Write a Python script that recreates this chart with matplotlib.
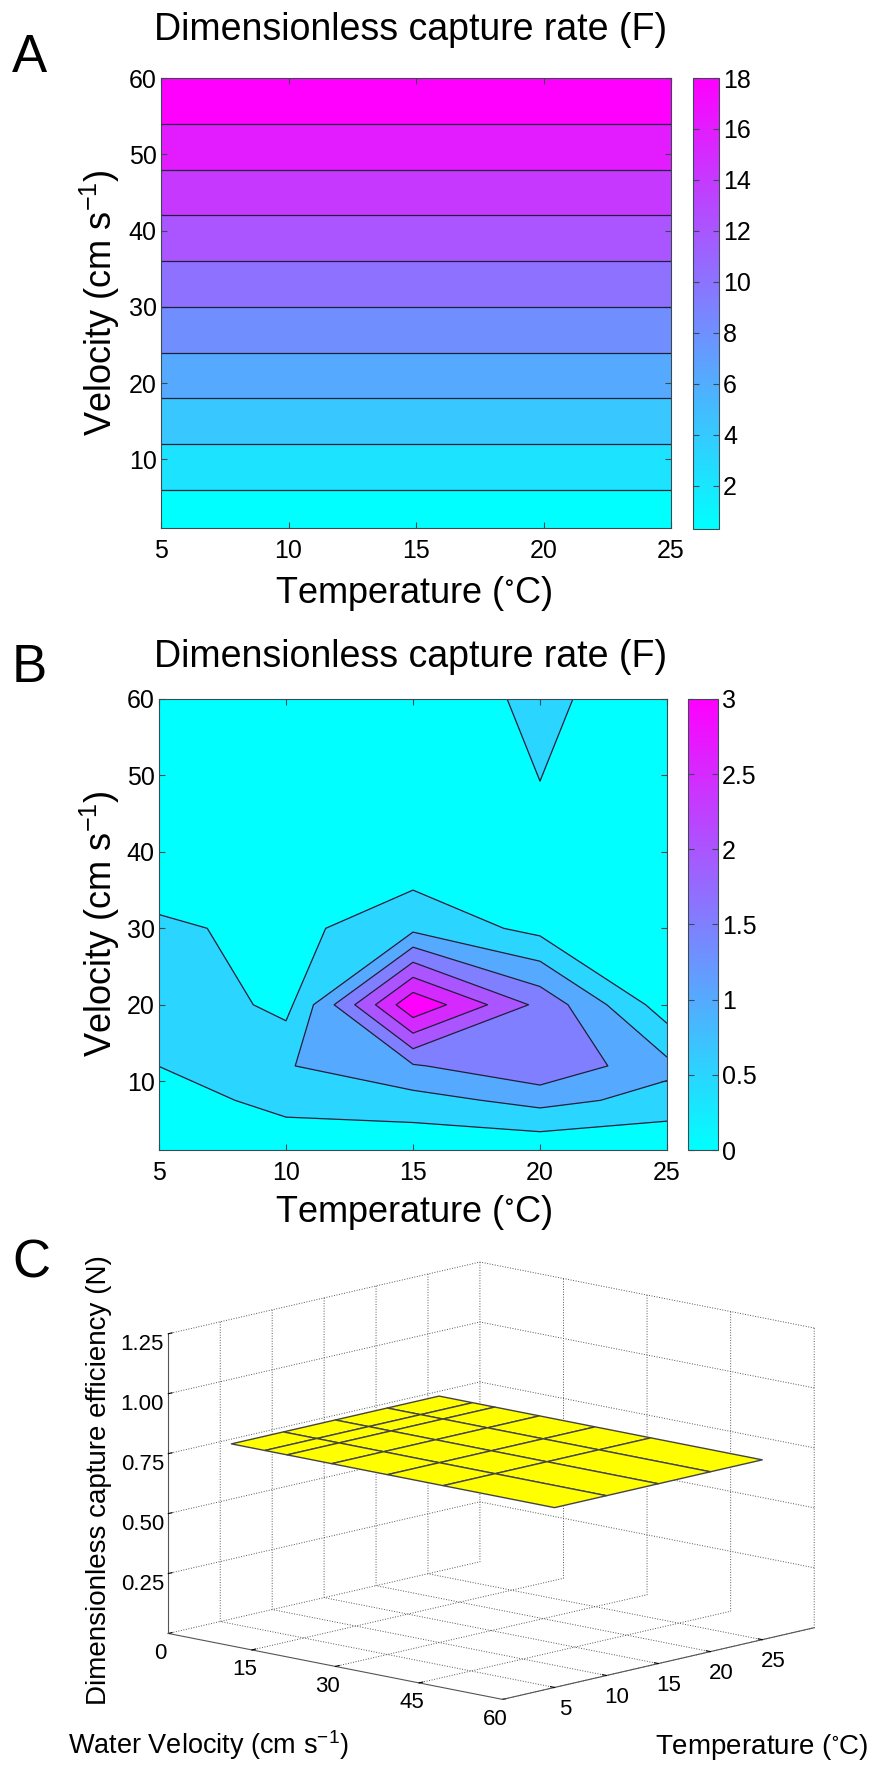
import matplotlib
matplotlib.use("Agg")
import matplotlib.pyplot as plt
import numpy as np
from matplotlib.cm import ScalarMappable
from matplotlib.colors import Normalize

plt.rcParams["font.family"] = ["Liberation Sans", "DejaVu Sans"]
plt.rcParams["mathtext.fontset"] = "custom"
plt.rcParams["mathtext.rm"] = "Liberation Sans"
plt.rcParams["mathtext.default"] = "regular"

W, H = 873, 1766
EDGE = "#3a4a50"

# Daten
temperature = [5, 10, 15, 20, 25]
velocity = [1, 7.5, 12, 20, 30, 40, 60]

# Panel A: F haengt nur von der Geschwindigkeit ab
f_a_by_velocity = [0.3, 2.25, 3.6, 6.0, 9.0, 12.0, 18.0]
levels_a = [1.8, 3.6, 5.4, 7.2, 9.0, 10.8, 12.6, 14.4, 16.2]
ticks_a = [2, 4, 6, 8, 10, 12, 14, 16, 18]

# Panel B
f_b = [
    [0.022, 0.088, 0.097, 0.101, 0.044],
    [0.172, 0.620, 0.717, 1.021, 0.726],
    [0.444, 0.849, 1.276, 1.694, 0.994],
    [0.858, 0.295, 3.000, 1.637, 0.198],
    [0.532, 0.290, 0.770, 0.308, 0.088],
    [0.022, 0.044, 0.110, 0.334, 0.044],
    [0.022, 0.022, 0.088, 0.563, 0.088],
]
levels_b = [0.44, 0.88, 1.32, 1.76, 2.20, 2.64]
ticks_b = [0, 0.5, 1, 1.5, 2, 2.5, 3]
ticklabels_b = ["0", "0.5", "1", "1.5", "2", "2.5", "3"]

# Panel C
velocity_c = [2, 8, 12, 20, 30, 40, 60]
n_value = 0.75
vel_ticks_c = [0, 15, 30, 45, 60]
temp_ticks_c = [5, 10, 15, 20, 25]
z_ticks_c = [0.25, 0.50, 0.75, 1.00, 1.25]

fig = plt.figure(figsize=(W / 100, H / 100), dpi=100)


def box(left, right, top, bottom):
    return [left / W, 1 - bottom / H, (right - left) / W, (bottom - top) / H]


def put(x, y, s, **kw):
    return fig.text(x / W, 1 - y / H, s, **kw)


def contour_panel(ax_box, cax_box, z, levels, vmin, vmax, ticks, ticklabels):
    ax = fig.add_axes(box(*ax_box))
    full = [vmin - 1] + levels + [vmax + 1]
    cols = [plt.cm.cool(i / (len(full) - 2)) for i in range(len(full) - 1)]
    ax.contourf(temperature, velocity, z, levels=full, colors=cols)
    ax.contour(temperature, velocity, z, levels=levels, colors="#20203a", linewidths=0.9)
    ax.set_xlim(5, 25)
    ax.set_ylim(1, 60)
    ax.set_xticks([5, 10, 15, 20, 25])
    ax.set_yticks([10, 20, 30, 40, 50, 60])
    ax.tick_params(direction="in", top=True, right=True, length=4, width=0.8,
                   color=EDGE, labelsize=18)
    ax.tick_params(axis="x", pad=8)
    ax.tick_params(axis="y", pad=3)
    for sp in ax.spines.values():
        sp.set_color(EDGE)

    cax = fig.add_axes(box(*cax_box))
    sm = ScalarMappable(norm=Normalize(vmin, vmax), cmap="cool")
    cb = fig.colorbar(sm, cax=cax)
    cb.set_ticks(ticks)
    cb.set_ticklabels(ticklabels)
    cax.tick_params(direction="in", left=True, right=True, length=4, width=0.8,
                    color=EDGE, labelsize=18, pad=3)
    cb.outline.set_edgecolor(EDGE)
    return ax


# A
z_a = np.tile(np.array(f_a_by_velocity)[:, None], (1, len(temperature)))
contour_panel((161, 671, 78, 528), (693, 719, 78, 529), z_a, levels_a, 0.3, 18,
              ticks_a, [str(t) for t in ticks_a])
put(411, 40, "Dimensionless capture rate (F)", fontsize=27, ha="center", va="baseline")
put(12, 72, "A", fontsize=38, ha="left", va="baseline")
put(414, 603, r"Temperature ($^{\circ}$C)", fontsize=26, ha="center", va="baseline")
put(100, 303, r"Velocity (cm s$^{-1}$)", fontsize=26, rotation=90, ha="center", va="center")

# B
contour_panel((159, 667, 699, 1150), (688, 718, 699, 1150), f_b, levels_b, 0, 3,
              ticks_b, ticklabels_b)
put(411, 667, "Dimensionless capture rate (F)", fontsize=27, ha="center", va="baseline")
put(12, 682, "B", fontsize=38, ha="left", va="baseline")
put(414, 1222, r"Temperature ($^{\circ}$C)", fontsize=26, ha="center", va="baseline")
put(100, 924, r"Velocity (cm s$^{-1}$)", fontsize=26, rotation=90, ha="center", va="center")

# C
ax3 = fig.add_axes(box(101, 861, 1111, 1871), projection="3d", proj_type="ortho")
ax3.view_init(elev=12.3, azim=-47.2)
ax3.set_box_aspect((456, 459, 307), zoom=0.914)
vv, tt = np.meshgrid(velocity_c, temperature, indexing="ij")
ax3.plot_surface(vv, tt, np.full(vv.shape, n_value), color="#ffff00", edgecolor="#444444",
                 linewidth=1.0, shade=False, rstride=1, cstride=1)
ax3.set_xlim(0, 60)
ax3.set_ylim(0, 30)
ax3.set_zlim(0, 1.25)
ax3.set_xticks(vel_ticks_c)
ax3.set_yticks(temp_ticks_c)
ax3.set_zticks(z_ticks_c)
ax3.set_zticklabels([f"{z:.2f}" for z in z_ticks_c])
ax3.tick_params(labelsize=16)
ax3.tick_params(axis="x", pad=-1)
ax3.tick_params(axis="y", pad=1)
ax3.patch.set_alpha(0)
ax3.zaxis.set_ticks_position("lower")
for axis in (ax3.xaxis, ax3.yaxis, ax3.zaxis):
    axis.set_pane_color((1, 1, 1, 0))
    axis.pane.set_edgecolor("none")
    axis.line.set_color("#555555")
    axis._axinfo["grid"].update(color="#555555", linestyle=":", linewidth=0.7)
    axis._axinfo["tick"].update(inward_factor=0.0, outward_factor=0.15)

put(12, 1278, "C", fontsize=38, ha="left", va="baseline")
put(99, 1480, "Dimensionless capture efficiency (N)", fontsize=20, rotation=90,
    ha="center", va="center")
put(208, 1754, r"Water Velocity (cm s$^{-1}$)", fontsize=19.5, ha="center", va="baseline")
put(762, 1754, r"Temperature ($^{\circ}$C)", fontsize=20, ha="center", va="baseline")

fig.savefig("out.png", dpi=100)
